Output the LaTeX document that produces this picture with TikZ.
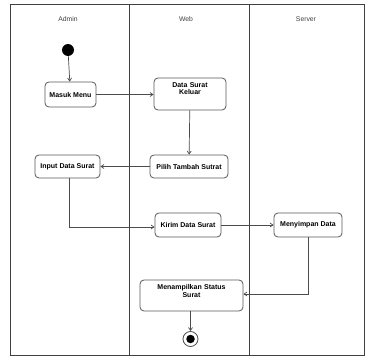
\documentclass[tikz,border=0pt]{standalone}
\usepackage{fontspec}
\setmainfont{Liberation Sans}
\usetikzlibrary{arrows.meta}
\begin{document}
\begin{tikzpicture}[x=1pt,y=-1pt,
  lane/.style={draw=black!75,line width=0.9pt},
  act/.style={draw=black!65,line width=0.8pt,rounded corners=4pt,fill=white,
    font=\bfseries\fontsize{7}{8}\selectfont,align=center,inner sep=1pt},
  toptext/.style={inner ysep=4pt,text height=5pt,text depth=#1},
  title/.style={font=\fontsize{6.8}{7.5}\selectfont,text=black!75},
  flow/.style={draw=black!70,line width=0.7pt,-{Straight Barb[length=3pt,width=4pt]}}]
\useasboundingbox (0,0) rectangle (365,356);
\fill[white] (0,0) rectangle (365,356);
% swimlanes
\draw[lane] (10,4) rectangle (364,355);
\draw[lane] (129,4) -- (129,355);
\draw[lane] (249,4) -- (249,355);
\node[title] (tAdmin) at (68,19) {Admin};
\node[title] (tWeb) at (186,19) {Web};
\node[title] (tServer) at (306,19) {Server};
% activities
\node[circle,fill=black,inner sep=0pt,minimum size=12pt] (start) at (68,50) {};
\node[act,minimum width=51pt,minimum height=25pt] (masuk) at (70.5,94.5) {Masuk Menu};
\node[act,toptext=19pt,minimum width=72pt,text width=66pt] (data) at (190,94) {Data Surat\\Keluar};
\node[act,minimum width=78pt,minimum height=23pt] (pilih) at (189,166.5) {Pilih Tambah Sutrat};
\node[act,minimum width=65pt,minimum height=23pt] (input) at (67.5,166.5) {Input Data Surat};
\node[act,minimum width=66pt,minimum height=24pt] (kirim) at (188,225) {Kirim Data Surat};
\node[act,minimum width=68pt,minimum height=24pt] (simpan) at (308,225) {Menyimpan Data};
\node[act,toptext=18pt,minimum width=103pt,text width=97pt] (tampil) at (191.5,295.5) {Menampilkan Status\\Surat};
\node[circle,draw=black!70,line width=0.8pt,fill=white,inner sep=0pt,minimum size=15pt] (end) at (190.5,339) {};
\node[circle,fill=black,inner sep=0pt,minimum size=8.5pt] (endin) at (end.center) {};
% flows
\draw[flow] (start) -- (masuk);
\draw[flow] (masuk) -- (masuk -| data.west);
\draw[flow] (data) -- (pilih);
\draw[flow] (pilih) -- (pilih -| input.east);
\coordinate (c1) at (69,227);
\draw[flow] (input.south -| c1) -- (c1) -- (c1 -| kirim.west);
\draw[flow] (kirim) -- (kirim -| simpan.west);
\coordinate (c2) at (308,294);
\draw[flow] (simpan.south -| c2) -- (c2) -- (c2 -| tampil.east);
\draw[flow] (tampil.south -| end) -- (end);
\end{tikzpicture}
\end{document}
